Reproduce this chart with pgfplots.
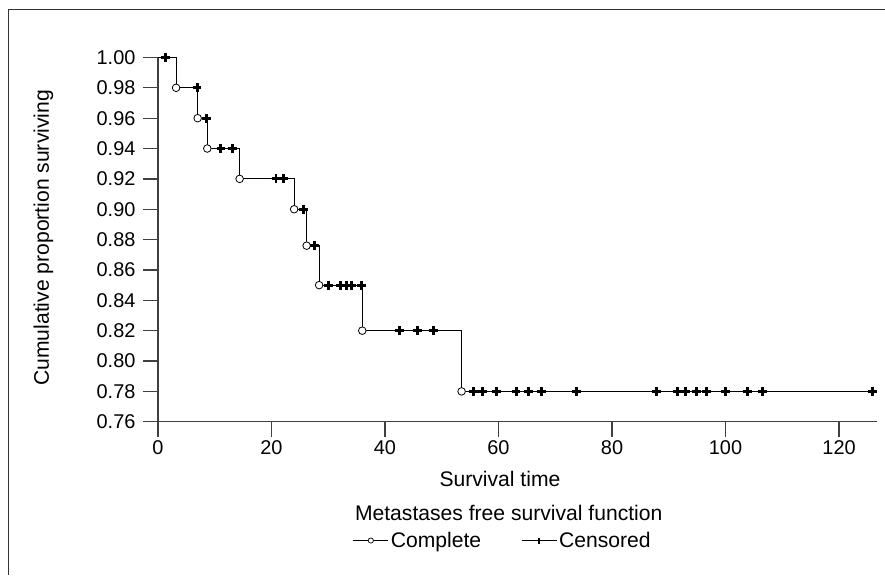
\documentclass[border=0pt]{standalone}
\usepackage{fontspec}
\setmainfont{Liberation Sans}
\usepackage{pgfplots}
\pgfplotsset{compat=1.18}

\begin{document}
\begin{tikzpicture}[x=1bp,y=1bp]
\path (0,0) rectangle (885,575);
% outer frame (only top and left edges visible)
\draw[black!80, line width=1bp] (8.3,0) -- (8.3,565) -- (885,565);
\begin{axis}[
    at={(158bp,153bp)}, anchor=south west,
    scale only axis, width=719bp, height=364.5bp,
    xmin=0, xmax=126.6, ymin=0.76, ymax=1.00,
    axis x line*=bottom, axis y line*=left,
    axis line style={black!75, line width=1.3bp},
    xtick={0,20,40,60,80,100,120},
    ytick={0.76,0.78,0.80,0.82,0.84,0.86,0.88,0.90,0.92,0.94,0.96,0.98,1.00},
    scaled y ticks=false,
    tick align=outside, major tick length=15bp,
    major tick style={black!75, line width=1.3bp},
    ticklabel style={font=\fontsize{20}{24}\selectfont},
    /pgf/number format/assume math mode=true,
    yticklabel style={xshift=-4bp, /pgf/number format/.cd, fixed, fixed zerofill, precision=2},
    xlabel={Survival time},
    xlabel style={font=\fontsize{21.2}{25}\selectfont, at={(axis description cs:0.476,-0.178)}, anchor=base},
    ylabel={Cumulative proportion surviving},
    ylabel style={font=\fontsize{21.2}{25}\selectfont, at={(axis description cs:-0.1516,0.505)}, anchor=base, rotate=0},
    legend columns=2,
    legend style={draw=none, fill=none, inner sep=0pt,
        at={(axis description cs:0.271,-0.326)}, anchor=west,
        font=\fontsize{21.2}{25}\selectfont,
        /tikz/every even column/.append style={column sep=38bp}},
    clip=false,
]
\addplot[const plot, black, line width=0.9bp, forget plot] coordinates {
    (0,1.00) (3.2,0.98) (7.0,0.96) (8.7,0.94) (14.4,0.92) (24.0,0.90)
    (26.2,0.876) (28.4,0.85) (36.0,0.82) (53.5,0.78) (125.9,0.78)
};
\addplot[only marks, mark=*, mark size=3.8bp, line width=0.8bp,
    mark options={fill=white, draw=black},
    legend image code/.code={
        \draw[black, line width=1bp] (0bp,0bp) -- (35bp,0bp);
        \draw[mark size=2.6bp, line width=0.7bp] plot coordinates {(17.5bp,0bp)};
    }] coordinates {
    (3.2,0.98) (7.0,0.96) (8.7,0.94) (14.4,0.92) (24.0,0.90)
    (26.2,0.876) (28.4,0.85) (36.0,0.82) (53.5,0.78)
};
\addlegendentry{Complete}
\addplot[only marks, mark=+, mark size=4.4bp, line width=2.9bp, black,
    legend image code/.code={
        \draw[black, line width=1bp] (0bp,0bp) -- (35bp,0bp);
        \draw[mark size=3bp, line width=1.9bp] plot coordinates {(17.5bp,0bp)};
    }] coordinates {
    (1.4,1.00) (6.9,0.98) (8.5,0.96) (11.1,0.94) (13.1,0.94)
    (20.8,0.92) (22.1,0.92) (25.7,0.90) (27.6,0.876)
    (30.0,0.85) (32.2,0.85) (33.2,0.85) (34.1,0.85) (35.8,0.85)
    (42.5,0.82) (45.7,0.82) (48.5,0.82)
    (55.6,0.78) (57.2,0.78) (59.6,0.78) (63.1,0.78) (65.3,0.78) (67.6,0.78)
    (73.8,0.78) (87.9,0.78) (91.5,0.78) (92.9,0.78) (94.9,0.78) (96.7,0.78)
    (100.0,0.78) (103.8,0.78) (106.5,0.78) (125.9,0.78)
};
\addlegendentry{Censored}
\end{axis}
\node[anchor=base, font=\fontsize{21.2}{25}\selectfont] at (509,54) {Metastases free survival function};
\end{tikzpicture}
\end{document}
